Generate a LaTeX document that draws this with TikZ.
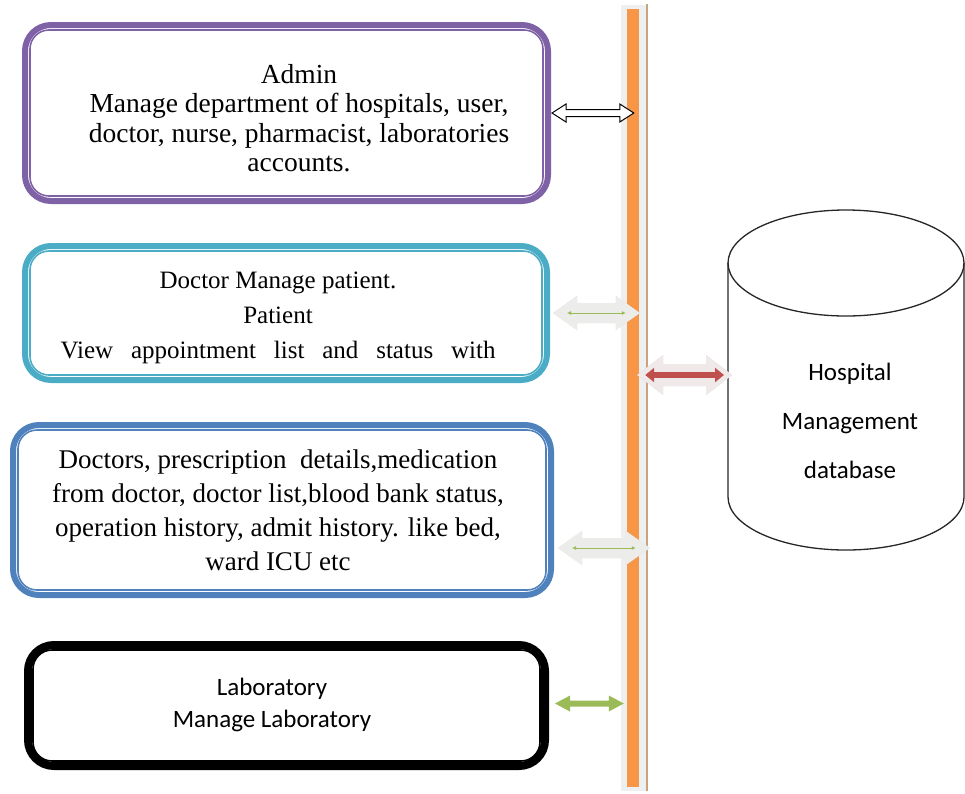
\documentclass[tikz,border=0pt]{standalone}
\usepackage{fontspec}
\setmainfont{Liberation Serif}
\newfontfamily\timesfont{Liberation Serif}
\newfontfamily\calibfont{Carlito}
\usetikzlibrary{calc,arrows.meta}
\definecolor{admpurple}{HTML}{7F62A6}
\definecolor{docteal}{HTML}{4BACC6}
\definecolor{patblue}{HTML}{4F81BD}
\definecolor{labgreen}{HTML}{9BBB59}
\definecolor{dbred}{HTML}{C0504D}
\definecolor{barorange}{HTML}{F79646}
\definecolor{barhalo}{HTML}{EEEFF0}
\definecolor{barbrown}{HTML}{C9A27E}
\definecolor{graylight}{HTML}{ECEDEA}
\definecolor{graydark}{HTML}{D8D9D6}
\definecolor{pinklight}{HTML}{EFE9E9}
\definecolor{pinkdark}{HTML}{E2CFCF}
% #1 style, #2 from, #3 to, #4 shaft half, #5 head half, #6 head length
\newcommand\blockdbl[6]{%
  \path[#1] let \p1=(#2), \p2=(#3) in
   (\x1,\y1) -- (\x1+#6pt,\y1+#5pt) -- (\x1+#6pt,\y1+#4pt) -- (\x2-#6pt,\y1+#4pt)
   -- (\x2-#6pt,\y1+#5pt) -- (\x2,\y1) -- (\x2-#6pt,\y1-#5pt) -- (\x2-#6pt,\y1-#4pt)
   -- (\x1+#6pt,\y1-#4pt) -- (\x1+#6pt,\y1-#5pt) -- cycle;}
% #1 style, #2 from, #3 to, #4 inset
\newcommand\innerdbl[4]{%
  \draw[#1] let \p1=(#2), \p2=(#3) in (\x1+#4pt,\y1) -- (\x2-#4pt,\y1);}
\begin{document}
\begin{tikzpicture}[x=1pt,y=-1pt,
  outerbox/.style={rectangle, rounded corners=26pt, inner sep=0pt},
  innerline/.style={line width=1.6pt, rounded corners=19pt},
  serifA/.style={font=\timesfont\fontsize{27.5}{29.5}\selectfont, align=center, inner sep=0pt},
  serifB/.style={font=\timesfont\fontsize{25}{35}\selectfont, align=center, inner sep=0pt},
  serifC/.style={font=\timesfont\fontsize{27}{34}\selectfont, align=center, inner sep=0pt},
  sansL/.style={font=\calibfont\fontsize{25}{32}\selectfont, align=center, inner sep=0pt},
  sansDB/.style={font=\calibfont\fontsize{25}{49}\selectfont, align=center, inner sep=0pt},
  dbline/.style={line width=1.3pt, black!85},
  grayshade/.style={fill=graydark, yshift=-3pt},
  graybody/.style={fill=graylight, yshift=1pt},
  pinkshade/.style={fill=pinkdark, yshift=-3pt},
  pinkbody/.style={fill=pinklight, yshift=1pt},
  whitearrow/.style={fill=white, draw=black, line width=1pt, line join=miter},
  greenarrow/.style={fill=labgreen},
  thingreen/.style={draw=labgreen, line width=1pt, yshift=2pt, {Latex[length=4pt,width=4pt]}-{Latex[length=4pt,width=4pt]}},
  thickred/.style={draw=dbred, line width=6pt, yshift=1.5pt, {Triangle[length=9pt,width=14pt]}-{Triangle[length=9pt,width=14pt]}}
]
\useasboundingbox (0,0) rectangle (965,793);

% central bus bar
\node[rectangle, fill=barhalo, minimum width=27, minimum height=786, inner sep=0pt] (halo) at (634.5,397.5) {};
\draw[barbrown, line width=1.6pt] ([xshift=-1pt]halo.north east) -- ([xshift=-1pt]halo.south east);
\node[rectangle, fill=barorange, minimum width=12, minimum height=778, inner sep=0pt] (bar) at (633,398) {};

% boxes
\node[outerbox, draw=admpurple, line width=6pt, minimum width=523, minimum height=176] (admin) at (286.5,113) {};
\draw[innerline, admpurple] ([shift={(8,8)}]admin.north west) rectangle ([shift={(-8,-8)}]admin.south east);
\node[serifA] (admintext) at (299,118) {Admin\\Manage department of hospitals, user,\\doctor, nurse, pharmacist, laboratories\\accounts.};

\node[outerbox, draw=docteal, line width=6pt, minimum width=522, minimum height=134] (doctor) at (286,313) {};
\draw[innerline, docteal] ([shift={(8,8)}]doctor.north west) rectangle ([shift={(-8,-8)}]doctor.south east);
\node[serifB] (doctortext) at (278,318) {Doctor Manage patient.\\Patient\\\makebox[435pt][s]{View appointment list and status with}};

\node[outerbox, draw=patblue, line width=6pt, minimum width=538, minimum height=170] (patient) at (282,510) {};
\draw[innerline, patblue] ([shift={(8,8)}]patient.north west) rectangle ([shift={(-8,-8)}]patient.south east);
\node[serifC] (patienttext) at (278,510) {Doctors, prescription~ details,medication\\from doctor, doctor list,blood bank status,\\operation history, admit history. like bed,\\ward ICU etc};

\node[outerbox, draw=black, line width=8pt, minimum width=517, minimum height=121] (lab) at (286.5,705.5) {};
\draw[innerline, black] ([shift={(9,9)}]lab.north west) rectangle ([shift={(-9,-9)}]lab.south east);
\node[sansL] (labtext) at (272,705) {Laboratory\\Manage Laboratory};

% database cylinder
\draw[dbline] (846,263) ellipse [x radius=118, y radius=53];
\draw[dbline] (728,263) -- (728,497) arc[start angle=180, end angle=0, x radius=118, y radius=53] -- (964,263);
\node[sansDB] (db) at (850,421) {Hospital\\Management\\database};
\coordinate (dbside) at (728,375);

% connectors
\blockdbl{whitearrow}{[xshift=1pt]admin.east}{[xshift=7pt]bar.west}{3.5}{9}{14}
% doctor <-> bar
\blockdbl{grayshade}{[xshift=3pt]doctor.east}{[xshift=13pt]bar.west}{10}{17}{24}
\blockdbl{graybody}{[xshift=3pt]doctor.east}{[xshift=13pt]bar.west}{10}{17}{24}
\innerdbl{thingreen}{[xshift=3pt]doctor.east}{[xshift=13pt]bar.west}{14}
% patient <-> bar
\blockdbl{grayshade}{[xshift=4pt,yshift=-38pt]patient.east}{[xshift=23pt]bar.west}{10}{17}{24}
\blockdbl{graybody}{[xshift=4pt,yshift=-38pt]patient.east}{[xshift=23pt]bar.west}{10}{17}{24}
\innerdbl{thingreen}{[xshift=4pt,yshift=-38pt]patient.east}{[xshift=23pt]bar.west}{14}
% bar <-> database
\blockdbl{pinkshade}{[xshift=-2pt]bar.east|-dbside}{[xshift=4pt]dbside}{11}{20}{26}
\blockdbl{pinkbody}{[xshift=-2pt]bar.east|-dbside}{[xshift=4pt]dbside}{11}{20}{26}
\innerdbl{thickred}{[xshift=-2pt]bar.east|-dbside}{[xshift=4pt]dbside}{8}
% lab <-> bar
\blockdbl{greenarrow}{[xshift=6pt,yshift=2pt]lab.east}{[xshift=-3pt]bar.west}{3}{8}{15}
\end{tikzpicture}
\end{document}
